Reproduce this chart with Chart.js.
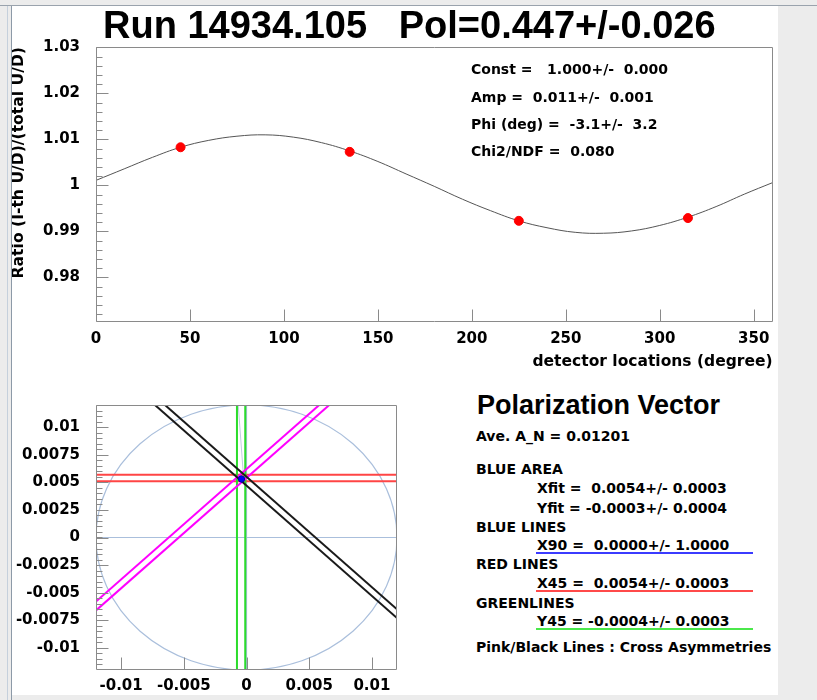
<!DOCTYPE html>
<html>
<head>
<meta charset="utf-8">
<script src="https://cdn.jsdelivr.net/npm/chart.js@4.4.1/dist/chart.umd.min.js"></script>
<style>
  html, body { margin: 0; padding: 0; }
  body { width: 817px; height: 700px; background: #ececec; position: relative; overflow: hidden;
         font-family: "DejaVu Sans", sans-serif; font-weight: bold; color: #000; }
  #pad { position: absolute; left: 12px; top: 6px; width: 766px; height: 689px; background: #fff; }
  .line { position: absolute; }
  canvas { position: absolute; }
  .t { position: absolute; white-space: pre; font-size: 14px; line-height: 16px; }
  .ul { position: absolute; height: 2px; }
</style>
</head>
<body>
<div id="pad"></div>
<div class="line" style="left:0;top:5px;width:817px;height:1px;background:#9aa3ad"></div>
<div class="line" style="left:7px;top:6px;width:1px;height:694px;background:#c5d0dc"></div>
<div class="line" style="left:11px;top:6px;width:1px;height:694px;background:#8d9aa8"></div>

<canvas id="fitChart" width="766" height="374" style="left:12px;top:6px"></canvas>
<canvas id="vecChart" width="400" height="315" style="left:12px;top:380px"></canvas>

<div class="t" style="left:103px;top:3px;font-family:'Liberation Sans',sans-serif;font-size:38px;line-height:44px">Run 14934.105   Pol=0.447+/-0.026</div>

<div class="t" style="left:471px;top:61px">Const =   1.000+/-  0.000</div>
<div class="t" style="left:471px;top:89px">Amp =  0.011+/-  0.001</div>
<div class="t" style="left:471px;top:116px">Phi (deg) =  -3.1+/-  3.2</div>
<div class="t" style="left:471px;top:143px">Chi2/NDF =  0.080</div>

<div class="t" style="left:477px;top:389px;font-family:'Liberation Sans',sans-serif;font-size:27px;line-height:32px">Polarization Vector</div>
<div class="t" style="left:476px;top:428px">Ave. A_N = 0.01201</div>
<div class="t" style="left:476px;top:461px">BLUE AREA</div>
<div class="t" style="left:537px;top:480px">Xfit =  0.0054+/- 0.0003</div>
<div class="t" style="left:537px;top:500px">Yfit = -0.0003+/- 0.0004</div>
<div class="t" style="left:476px;top:519px">BLUE LINES</div>
<div class="t" style="left:537px;top:537px">X90 =  0.0000+/- 1.0000</div>
<div class="ul" style="left:536px;top:552px;width:217px;background:#3b3bff"></div>
<div class="t" style="left:476px;top:556px">RED LINES</div>
<div class="t" style="left:537px;top:575px">X45 =  0.0054+/- 0.0003</div>
<div class="ul" style="left:536px;top:590px;width:217px;background:#ff4a4a"></div>
<div class="t" style="left:476px;top:595px">GREENLINES</div>
<div class="t" style="left:537px;top:613px">Y45 = -0.0004+/- 0.0003</div>
<div class="ul" style="left:536px;top:628px;width:217px;background:#4be84b"></div>
<div class="t" style="left:476px;top:639px">Pink/Black Lines : Cross Asymmetries</div>

<script>
// ---- top plot: ratio vs detector angle ----
const detAngles = [45, 135, 225, 315];
const detRatios = [1.0083, 1.0073, 0.9923, 0.9929];

// fit curve every 15 degrees
const fitAngles = [0, 15, 30, 45, 60, 75, 90, 105, 120, 135, 150, 165, 180,
                   195, 210, 225, 240, 255, 270, 285, 300, 315, 330, 345, 360];
const fitRatios = [1.0011, 1.0036, 1.0061, 1.0083, 1.0098, 1.0107, 1.0110, 1.0105, 1.0093,
                   1.0075, 1.0052, 1.0025, 0.9998, 0.9970, 0.9945, 0.9923, 0.9908, 0.9898,
                   0.9896, 0.9901, 0.9913, 0.9931, 0.9954, 0.9981, 1.0006];

const ratioTicks = [0.98, 0.99, 1, 1.01, 1.02, 1.03];
const angleTicks = [0, 50, 100, 150, 200, 250, 300, 350];

// ---- bottom plot: polarization vector ----
const vecTicksX = [-0.01, -0.005, 0, 0.005, 0.01];
const vecTicksY = [-0.01, -0.0075, -0.005, -0.0025, 0, 0.0025, 0.005, 0.0075, 0.01];
const circleRadius = 0.012;

const redLineY = [0.00568, 0.0051];
const greenLineX = [-0.00076, -0.0001];
// pink / black lines as [x1, y1, x2, y2]
const pinkLines = [[-0.012, -0.0058, 0.012, 0.0182], [-0.012, -0.0066, 0.012, 0.0174]];
const blackLines = [[-0.012, 0.0175, 0.012, -0.0065], [-0.012, 0.0167, 0.012, -0.0073]];
const fitPoint = [-0.0004, 0.0053];

const tickFont = { family: 'DejaVu Sans', size: 15, weight: 'bold' };

// ROOT-like frame with ticks pointing inwards
const frameTicks = {
  id: 'frameTicks',
  afterDatasetsDraw(chart, args, o) {
    const { ctx, chartArea: a, scales: { x, y } } = chart;
    const L = Math.round(a.left) + 0.5, R = Math.round(a.right) - 0.5;
    const T = Math.round(a.top) + 0.5, B = Math.round(a.bottom) - 0.5;
    ctx.save();
    ctx.strokeStyle = '#8a8a8a';
    ctx.lineWidth = 1;
    ctx.beginPath();
    ctx.rect(L, T, R - L, B - T);
    o.xMajor.forEach(v => {
      const px = Math.round(x.getPixelForValue(v)) + 0.5;
      ctx.moveTo(px, B); ctx.lineTo(px, B - 12);
    });
    o.yMajor.forEach(v => {
      const py = Math.round(y.getPixelForValue(v)) + 0.5;
      ctx.moveTo(L, py); ctx.lineTo(L + 12, py);
    });
    for (let v = o.yMinorStart; v <= y.max + 1e-9; v += o.yMinorStep) {
      const py = Math.round(y.getPixelForValue(v)) + 0.5;
      if (py < T || py > B) continue;
      ctx.moveTo(L, py); ctx.lineTo(L + 6, py);
    }
    ctx.stroke();
    ctx.restore();
  }
};

// light blue reference circle
const refCircle = {
  id: 'refCircle',
  beforeDatasetsDraw(chart) {
    const { ctx, chartArea: a, scales: { x, y } } = chart;
    const cx = x.getPixelForValue(0), cy = y.getPixelForValue(0);
    const rx = x.getPixelForValue(circleRadius) - cx;
    const ry = cy - y.getPixelForValue(circleRadius);
    ctx.save();
    ctx.beginPath();
    ctx.rect(a.left, a.top, a.right - a.left, a.bottom - a.top);
    ctx.clip();
    ctx.strokeStyle = '#aabfdc';
    ctx.lineWidth = 1.2;
    ctx.beginPath();
    ctx.ellipse(cx, cy, rx, ry, 0, 0, Math.PI * 2);
    ctx.stroke();
    ctx.restore();
  }
};

function fixTicks(values) {
  return scale => { scale.ticks = values.map(v => ({ value: v })); };
}

new Chart(document.getElementById('fitChart'), {
  type: 'scatter',
  data: {
    datasets: [
      {
        data: detAngles.map((a, i) => ({ x: a, y: detRatios[i] })),
        backgroundColor: '#ff0000', borderColor: '#ff0000',
        pointRadius: 4.5, pointHoverRadius: 4.5
      },
      {
        data: fitAngles.map((a, i) => ({ x: a, y: fitRatios[i] })),
        showLine: true, borderColor: '#555555', borderWidth: 1,
        pointRadius: 0, tension: 0.4
      }
    ]
  },
  options: {
    responsive: false,
    animation: false,
    events: [],
    layout: { padding: { top: 41, right: 3, left: 0, bottom: 0 } },
    plugins: {
      legend: { display: false },
      tooltip: { enabled: false },
      frameTicks: { xMajor: angleTicks, yMajor: ratioTicks, yMinorStart: 0.972, yMinorStep: 0.002 }
    },
    scales: {
      x: {
        type: 'linear', min: 0, max: 360,
        afterBuildTicks: fixTicks(angleTicks),
        afterFit: s => { s.height = 58; },
        grid: { display: false, drawTicks: false },
        border: { display: false },
        ticks: { font: tickFont, color: '#000', padding: 8, maxRotation: 0 },
        title: {
          display: true, text: 'detector locations (degree)', align: 'end',
          font: { family: 'DejaVu Sans', size: 15.5, weight: 'bold' }, color: '#000',
          padding: { top: 0, bottom: 9 }
        }
      },
      y: {
        type: 'linear', min: 0.9703, max: 1.0301,
        afterBuildTicks: fixTicks(ratioTicks),
        afterFit: s => { s.width = 84; },
        grid: { display: false, drawTicks: false },
        border: { display: false },
        ticks: { font: tickFont, color: '#000', padding: 16, callback: v => String(v) },
        title: {
          display: true, text: 'Ratio (I-th U/D)/(total U/D)', align: 'end',
          font: { family: 'DejaVu Sans', size: 15.6, weight: 'bold' }, color: '#000',
          padding: { top: -2, bottom: 0 }
        }
      }
    }
  },
  plugins: [frameTicks]
});

function seg(pts, color, width) {
  return {
    data: [{ x: pts[0], y: pts[1] }, { x: pts[2], y: pts[3] }],
    showLine: true, borderColor: color, borderWidth: width, pointRadius: 0
  };
}

const vecSets = [
  { data: [{ x: fitPoint[0], y: fitPoint[1] }], backgroundColor: '#0000ee', borderColor: '#0000aa',
    pointRadius: 3.2, pointHoverRadius: 3.2 },
  ...blackLines.map(l => seg(l, '#1a1a1a', 2)),
  ...pinkLines.map(l => seg(l, '#ff00ff', 2)),
  ...greenLineX.map(v => seg([v, -0.012, v, 0.012], '#2bdc2b', 2)),
  ...redLineY.map(v => seg([-0.012, v, 0.012, v], '#ff4545', 2)),
  seg([-0.00066, 0.012, -0.00025, 0.0057], '#c0cde0', 1),
  seg([0, -0.012, 0, 0.012], '#aabfdc', 1.2),
  seg([-0.012, 0, 0.012, 0], '#aabfdc', 1.2)
];

new Chart(document.getElementById('vecChart'), {
  type: 'scatter',
  data: { datasets: vecSets },
  options: {
    responsive: false,
    animation: false,
    events: [],
    layout: { padding: { top: 21, right: 15, left: 0, bottom: 0 } },
    plugins: {
      legend: { display: false },
      tooltip: { enabled: false },
      frameTicks: { xMajor: vecTicksX, yMajor: vecTicksY, yMinorStart: -0.012, yMinorStep: 0.0005 }
    },
    scales: {
      x: {
        type: 'linear', min: -0.012, max: 0.012,
        afterBuildTicks: fixTicks(vecTicksX),
        afterFit: s => { s.height = 21; },
        grid: { display: false, drawTicks: false },
        border: { display: false },
        ticks: { font: tickFont, color: '#000', padding: 7, maxRotation: 0, callback: v => String(v) }
      },
      y: {
        type: 'linear', min: -0.012, max: 0.012,
        afterBuildTicks: fixTicks(vecTicksY),
        afterFit: s => { s.width = 84; },
        grid: { display: false, drawTicks: false },
        border: { display: false },
        ticks: { font: tickFont, color: '#000', padding: 16, callback: v => String(v) }
      }
    }
  },
  plugins: [frameTicks, refCircle]
});
</script>
</body>
</html>
